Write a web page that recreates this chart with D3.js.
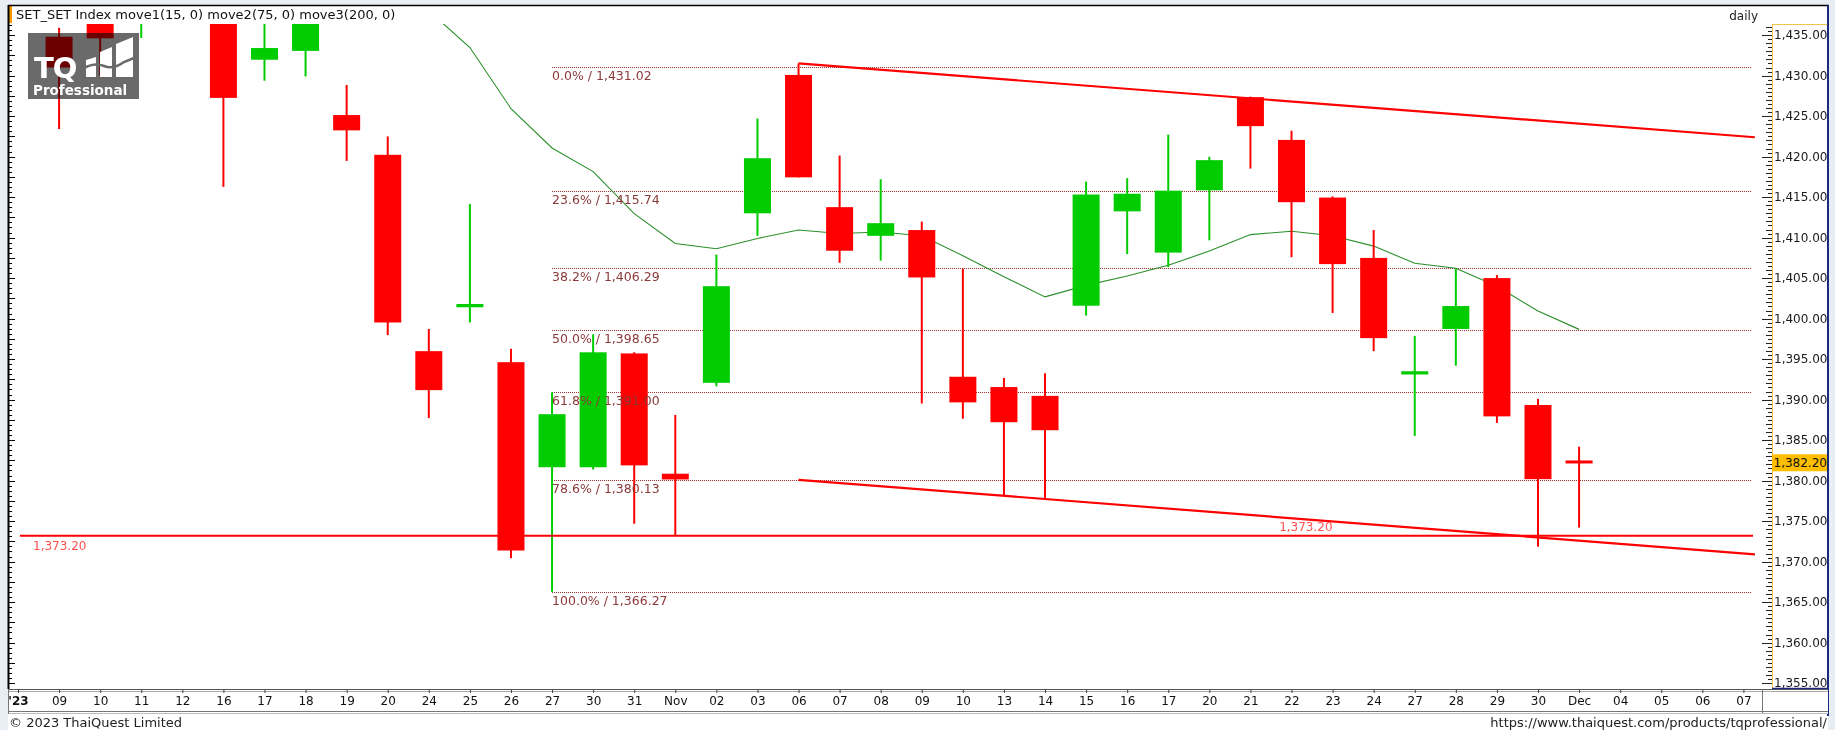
<!DOCTYPE html>
<html><head><meta charset="utf-8">
<script src="https://cdn.jsdelivr.net/npm/d3@7"></script>
<style>
html,body{margin:0;padding:0;background:#e9eef5;}
svg{display:block;}
</style></head>
<body>
<svg id="c" width="1835" height="730"></svg>
<script>
// ---------- DATA ----------
const dates = ["'23","09","10","11","12","16","17","18","19","20","24","25","26","27","30","31","Nov","02","03","06","07","08","09","10","13","14","15","16","17","20","21","22","23","24","27","28","29","30","Dec","04","05","06","07"];
const opens  = [1443.0,1434.8,1440.5,1440.0,1446.0,1442.0,1431.96,1433.05,1425.13,1420.22,1395.98,1401.4,1394.62,1381.65,1381.65,1395.70,1380.85,1392.07,1413.00,1430.08,1413.76,1410.22,1410.93,1392.82,1391.55,1390.46,1401.59,1413.24,1408.15,1415.84,1427.34,1422.06,1414.94,1407.49,1393.1,1398.72,1405.00,1389.33,1382.4];
const highs  = [1450.0,1435.9,1443.0,1447.0,1452.0,1444.0,1437.5,1439.0,1428.85,1422.49,1398.72,1414.14,1396.27,1390.89,1398.06,1395.84,1388.11,1407.91,1424.70,1431.5,1420.13,1417.2,1411.97,1406.17,1392.68,1393.25,1416.92,1417.34,1422.72,1419.98,1427.4,1423.19,1415.08,1410.93,1397.87,1406.12,1405.37,1390.09,1384.19];
const lows   = [1440.0,1423.4,1430.0,1434.65,1442.0,1416.26,1429.37,1429.9,1419.47,1397.96,1387.73,1399.52,1370.42,1366.27,1381.37,1374.67,1373.20,1391.64,1410.22,1417.44,1406.88,1407.16,1389.52,1387.64,1378.16,1377.69,1400.37,1407.96,1406.36,1409.66,1418.52,1407.58,1400.70,1395.98,1385.52,1394.19,1387.12,1371.84,1374.20];
const closes = [1447.0,1431.0,1434.6,1445.5,1450.0,1427.25,1433.4,1437.5,1423.24,1399.52,1391.17,1401.8,1371.37,1388.20,1395.84,1381.88,1380.14,1404.00,1419.80,1417.44,1408.38,1411.78,1405.08,1389.66,1387.21,1386.22,1415.32,1415.41,1415.79,1419.56,1423.76,1414.37,1406.73,1397.59,1393.5,1401.55,1387.93,1380.18,1382.20];
const maStart = 10;
const maValues = [1438.0,1433.47,1425.93,1421.07,1418.15,1412.96,1409.28,1408.62,1409.89,1410.93,1410.51,1410.70,1410.22,1407.77,1405.18,1402.68,1404.1,1405.27,1406.59,1408.34,1410.37,1410.79,1410.22,1408.95,1406.83,1406.22,1404.0,1400.93,1398.67];
const fibPct = ["0.0%","23.6%","38.2%","50.0%","61.8%","78.6%","100.0%"];
const fibVal = [1431.02,1415.74,1406.29,1398.65,1391.00,1380.13,1366.27];
const fibStartIdx = 13;
const supportLevel = 1373.20;
const upperTrend = [[19,1431.5],[42.28,1422.39]];
const lowerTrend = [[19,1380.1],[42.28,1370.9]];
const yTicks = [1355,1360,1365,1370,1375,1380,1385,1390,1395,1400,1405,1410,1415,1420,1425,1430,1435];
const lastPrice = 1382.20;
const title = "SET_SET Index move1(15, 0) move2(75, 0) move3(200, 0)";

// ---------- SCALES ----------
const svg = d3.select("#c");
const x = d3.scaleLinear().domain([0, 42]).range([18, 1743.4]);
const y = d3.scaleLinear().domain([1355, 1435]).range([683.1, 35.1]);
const fmt = d3.format(",.2f");
const RED = "#ff0000", GREEN = "#00cc00";
const plot = {x0: 9, x1: 1759, y0: 24, y1: 689};

// frame background
svg.append("rect").attr("x",8).attr("y",5).attr("width",1820).attr("height",725).attr("fill","#ffffff");

const defs = svg.append("defs");
defs.append("clipPath").attr("id","pc").append("rect")
  .attr("x",plot.x0).attr("y",plot.y0).attr("width",plot.x1-plot.x0).attr("height",plot.y1-plot.y0);

const g = svg.append("g").attr("clip-path","url(#pc)");

// fib lines
const fibG = g.append("g");
fibVal.forEach((v)=>{
  fibG.append("line").attr("x1",x(fibStartIdx)).attr("x2",1752).attr("y1",Math.round(y(v))+0.5).attr("y2",Math.round(y(v))+0.5)
    .attr("stroke","#9a2a2a").attr("stroke-width",1).attr("stroke-dasharray","1,1");
});

// MA line
const maData = maValues.map((v,k)=>({i:maStart+k, v}));
g.append("path").datum(maData)
  .attr("d", d3.line().x(d=>x(d.i)).y(d=>y(d.v)))
  .attr("fill","none").attr("stroke","#2a8f2a").attr("stroke-width",1.1);

// candles
const candles = opens.map((o,i)=>({i, o, h:highs[i], l:lows[i], c:closes[i]}));
const cg = g.append("g");
const bw = 27;
candles.forEach(d=>{
  const col = d.c >= d.o ? GREEN : RED;
  cg.append("line").attr("x1",x(d.i)).attr("x2",x(d.i)).attr("y1",y(d.h)).attr("y2",y(d.l))
    .attr("stroke",col).attr("stroke-width",2);
  const top = y(Math.max(d.o,d.c)), bot = y(Math.min(d.o,d.c));
  let hgt = bot-top; let ty = top;
  if (hgt < 3) { ty = (top+bot)/2 - 1.5; hgt = 3; }
  cg.append("rect").attr("x",x(d.i)-bw/2).attr("y",ty).attr("width",bw).attr("height",hgt).attr("fill",col);
});

// fib labels (drawn over candles)
fibVal.forEach((v,k)=>{
  g.append("text").attr("x",x(fibStartIdx)).attr("y",y(v)+13)
    .attr("font-family","DejaVu Sans").attr("font-size",12.5).attr("fill","#8b3a3a")
    .text(fibPct[k]+" / "+fmt(v));
});

// support line and trend lines
g.append("line").attr("x1",x(0)+2).attr("x2",1753).attr("y1",y(supportLevel)).attr("y2",y(supportLevel))
  .attr("stroke",RED).attr("stroke-width",2);
[upperTrend, lowerTrend].forEach(t=>{
  g.append("path").datum(t).attr("d", d3.line().x(d=>x(d[0])).y(d=>y(d[1])))
   .attr("fill","none").attr("stroke",RED).attr("stroke-width",2.2);
});
svg.append("text").attr("x",33).attr("y",y(supportLevel)+14)
  .attr("font-family","DejaVu Sans").attr("font-size",12).attr("fill","#ff5050").text(fmt(supportLevel));
svg.append("text").attr("x",x(32)).attr("y",y(supportLevel)-5).attr("text-anchor","end")
  .attr("font-family","DejaVu Sans").attr("font-size",12).attr("fill","#ff5050").text(fmt(supportLevel));

// logo watermark
const lg = svg.append("g");
lg.append("rect").attr("x",28).attr("y",33).attr("width",111).attr("height",66)
  .attr("fill","#6a6a6a").style("mix-blend-mode","multiply");
lg.append("text").attr("x",34).attr("y",78).attr("font-family","DejaVu Sans").attr("font-weight","bold")
  .attr("font-size",29).attr("fill","#ffffff").attr("letter-spacing",-1).text("TQ");
lg.append("path").attr("fill","#ffffff")
  .attr("d","M86,60 L96,57 L96,77 L86,77 Z M100,52 L112,47 L112,77 L100,77 Z M116,44 L133,37 L133,77 L116,77 Z");
lg.append("path").attr("fill","none").attr("stroke","#6a6a6a").attr("stroke-width",2.5)
  .attr("d","M84,68 Q95,62 104,66 T124,62 L134,58");
lg.append("text").attr("x",33).attr("y",95).attr("font-family","DejaVu Sans").attr("font-weight","bold")
  .attr("font-size",13.5).attr("fill","#ffffff").text("Professional");

// title
svg.append("rect").attr("x",8).attr("y",6).attr("width",4).attr("height",17).attr("fill","#ff9900");
svg.append("text").attr("x",16).attr("y",19).attr("font-family","DejaVu Sans").attr("font-size",13)
  .attr("fill","#111").text(title);
svg.append("text").attr("x",1758).attr("y",20).attr("text-anchor","end").attr("font-family","DejaVu Sans")
  .attr("font-size",12).attr("fill","#222").text("daily");

// left axis ticks
const la = svg.append("g");
la.append("line").attr("x1",8.5).attr("x2",8.5).attr("y1",5).attr("y2",689).attr("stroke","#000").attr("stroke-width",2);
d3.range(1355, 1437.5, 0.625).forEach(v=>{
  const major = Math.abs(v/2.5 - Math.round(v/2.5)) < 1e-6;
  const yy = Math.round(y(v))+0.5;
  if (yy < plot.y0 || yy > plot.y1) return;
  la.append("line").attr("x1",9).attr("x2",major?15:12).attr("y1",yy).attr("y2",yy).attr("stroke","#000").attr("stroke-width",1);
});

// top border
svg.append("line").attr("x1",8).attr("x2",1829).attr("y1",5.5).attr("y2",5.5).attr("stroke","#000").attr("stroke-width",1.5);

// right axis panel
const ra = svg.append("g");
ra.append("line").attr("x1",1772.5).attr("x2",1772.5).attr("y1",24).attr("y2",689).attr("stroke","#f2c54a").attr("stroke-width",1);
ra.append("line").attr("x1",1772).attr("x2",1828).attr("y1",24.5).attr("y2",24.5).attr("stroke","#f2c54a").attr("stroke-width",1);
ra.append("line").attr("x1",1828).attr("x2",1828).attr("y1",5).attr("y2",716).attr("stroke","#1a2a80").attr("stroke-width",2);
ra.append("line").attr("x1",1772).attr("x2",1828).attr("y1",688.5).attr("y2",688.5).attr("stroke","#1a2a80").attr("stroke-width",1.5);
d3.range(1355, 1437.5, 0.5).forEach(v=>{
  const yy = Math.round(y(v))+0.5;
  if (yy < 25 || yy > 688) return;
  const m5 = Math.abs(v/5 - Math.round(v/5)) < 1e-6;
  const m1 = Math.abs(v - Math.round(v)) < 1e-6;
  ra.append("line").attr("x1", m5?1762:(m1?1766:1768)).attr("x2",1772).attr("y1",yy).attr("y2",yy)
    .attr("stroke","#222").attr("stroke-width",1);
});
const yAxis = d3.axisRight(y).tickValues(yTicks).tickSize(0).tickPadding(2).tickFormat(fmt);
const yag = svg.append("g").attr("transform","translate(1772,0)").call(yAxis);
yag.select(".domain").remove();
yag.selectAll("text").attr("font-family","DejaVu Sans").attr("font-size",12).attr("fill","#1a1a1a");
// last price tag
svg.append("rect").attr("x",1772).attr("y",y(lastPrice)-8.5).attr("width",55).attr("height",17).attr("fill","#ffbf00");
svg.append("text").attr("x",1773.5).attr("y",y(lastPrice)+4.5).attr("font-family","DejaVu Sans").attr("font-size",12)
  .attr("fill","#111").text(fmt(lastPrice));

// bottom date axis
const xa = svg.append("g");
xa.append("rect").attr("x",9).attr("y",689).attr("width",1819).attr("height",25).attr("fill","#ffffff");
xa.append("line").attr("x1",9).attr("x2",1828).attr("y1",689.5).attr("y2",689.5).attr("stroke","#555");
xa.append("line").attr("x1",9).attr("x2",1828).attr("y1",691.5).attr("y2",691.5).attr("stroke","#aaa");
xa.append("line").attr("x1",9).attr("x2",1828).attr("y1",711.5).attr("y2",711.5).attr("stroke","#777");
xa.append("line").attr("x1",9).attr("x2",1828).attr("y1",713.5).attr("y2",713.5).attr("stroke","#bbb");
xa.append("line").attr("x1",1762.5).attr("x2",1762.5).attr("y1",689).attr("y2",713).attr("stroke","#777");
xa.append("line").attr("x1",8.5).attr("x2",8.5).attr("y1",689).attr("y2",714).attr("stroke","#777");
const xAxis = d3.axisBottom(x).tickValues(d3.range(dates.length)).tickSize(3).tickFormat(i=>dates[i]).tickPadding(3);
const xag = svg.append("g").attr("transform","translate(0,690)").call(xAxis);
xag.select(".domain").remove();
xag.selectAll(".tick line").attr("stroke","#444");
xag.selectAll("text").attr("font-family","DejaVu Sans").attr("font-size",12).attr("fill","#111")
  .attr("font-weight",(d)=>d===0?"bold":"normal");

// footer
svg.append("text").attr("x",9).attr("y",727).attr("font-family","DejaVu Sans").attr("font-size",13).attr("fill","#222")
  .text("\u00a9 2023 ThaiQuest Limited");
svg.append("text").attr("x",1827).attr("y",727).attr("text-anchor","end").attr("font-family","DejaVu Sans").attr("font-size",13)
  .attr("fill","#222").text("https://www.thaiquest.com/products/tqprofessional/");
</script>
</body></html>
